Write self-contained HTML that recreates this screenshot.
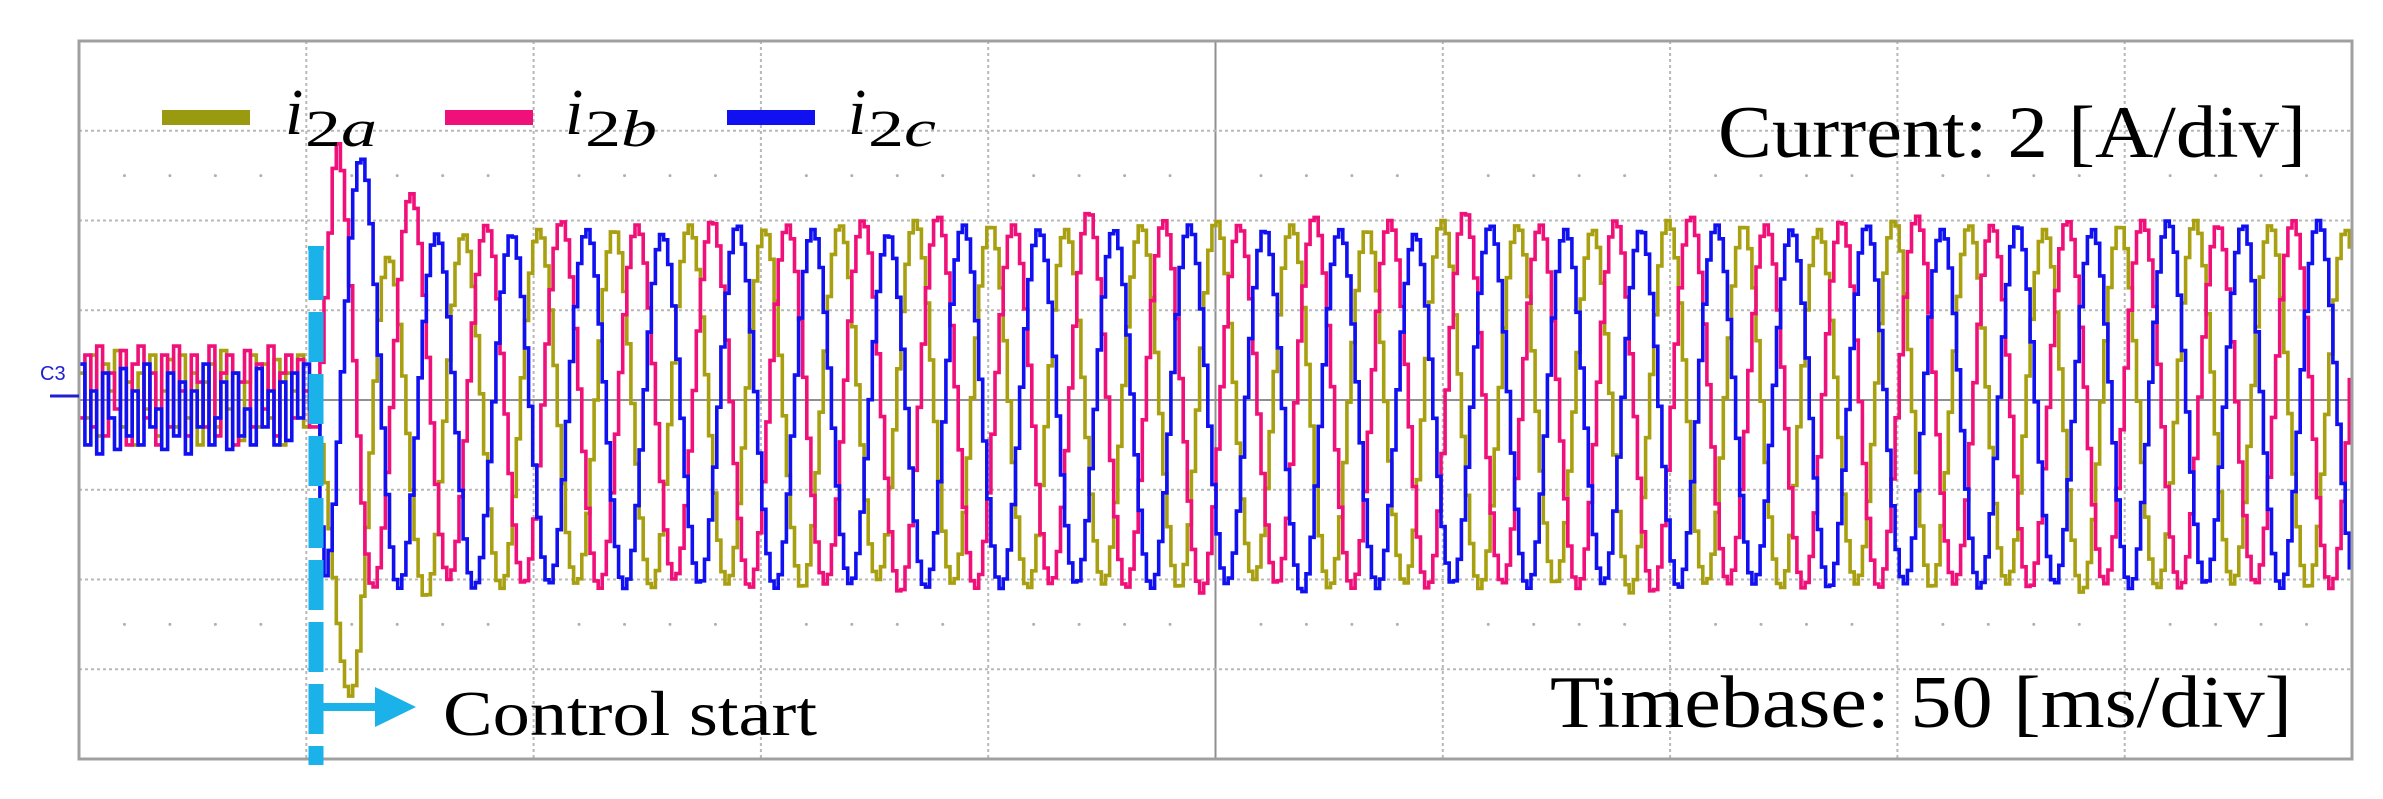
<!DOCTYPE html>
<html><head><meta charset="utf-8"><style>
html,body{margin:0;padding:0;background:#fff}
svg{display:block}
text{font-family:"Liberation Serif",serif}
</style></head>
<body>
<svg id="chart" width="2383" height="799" viewBox="0 0 2383 799" xmlns="http://www.w3.org/2000/svg">
<g id="grid"></g>
<g id="traces"></g>
<rect x="79" y="41" width="2273" height="718" fill="none" stroke="#a0a0a0" stroke-width="3"/>
<g>
<text x="40" y="380" font-size="20" fill="#2020d0" style="font-family:'Liberation Sans',sans-serif">C3</text>
<line x1="50" y1="396" x2="79" y2="396" stroke="#2020d0" stroke-width="3"/>
</g>
<g>
<line x1="316" y1="250" x2="316" y2="765" stroke="#1ab2e8" stroke-width="15" stroke-dasharray="50,12"/>
<line x1="308" y1="248" x2="324" y2="248" stroke="#1ab2e8" stroke-width="4"/>
<line x1="316" y1="707" x2="380" y2="707" stroke="#1ab2e8" stroke-width="8"/>
<polygon points="375,687 416,707 375,727" fill="#1ab2e8"/>
<text x="443" y="735" font-size="64" textLength="374" lengthAdjust="spacingAndGlyphs">Control start</text>
</g>
<g>
<g>
<rect x="162" y="110" width="88" height="15" fill="#9a9a10"/>
<text x="285" y="134" font-size="66" font-style="italic">i</text><text x="305" y="146" font-size="52" textLength="72" lengthAdjust="spacingAndGlyphs">2<tspan font-style="italic">a</tspan></text>
</g>
<g>
<rect x="445" y="110" width="88" height="15" fill="#f0107a"/>
<text x="565" y="134" font-size="66" font-style="italic">i</text><text x="585" y="146" font-size="52" textLength="72" lengthAdjust="spacingAndGlyphs">2<tspan font-style="italic">b</tspan></text>
</g>
<g>
<rect x="727" y="110" width="88" height="15" fill="#1010f0"/>
<text x="848" y="134" font-size="66" font-style="italic">i</text><text x="868" y="146" font-size="52" textLength="68" lengthAdjust="spacingAndGlyphs">2<tspan font-style="italic">c</tspan></text>
</g>
</g>
<text x="1718" y="157" font-size="74" textLength="588" lengthAdjust="spacingAndGlyphs">Current:  2 [A/div]</text>
<text x="1550" y="727" font-size="74" textLength="742" lengthAdjust="spacingAndGlyphs">Timebase:  50 [ms/div]</text>
</svg>
<script>
// time axis: 0..500 ms (10 div x 50 ms), value axis: -4..4 div (2 A/div)
const halfPeriodMs = 8.28;
const firstExtremeMs = { a: 51.1, b: 56.1, c: 53.4 };
const noiseStepMs = 1.3;
// pre-control noise samples (div)
const noiseA = [0.3,-0.2,0.5,-0.4,0.4,0.1,0.55,-0.3,0.2,-0.5,0.3,-0.1,0.5,-0.4,0.1,0.45,-0.3,0.5,-0.2,0.3,-0.5,0.2,0.4,-0.3,0.55,-0.1,0.3,-0.45,0.2,0.5,-0.3,0.4,-0.2,0.45,-0.5,0.3,0.1,0.5,-0.3,0.2];
const noiseB = [-0.2,0.5,-0.3,0.6,-0.4,0.3,-0.1,0.55,-0.5,0.4,0.6,-0.2,0.3,-0.5,0.5,-0.3,0.6,0.1,-0.4,0.5,0.2,-0.3,0.6,-0.4,0.3,0.5,-0.5,0.2,0.55,-0.3,0.4,-0.1,0.6,-0.4,0.3,0.5,-0.2,0.45,0.1,-0.3];
const noiseC = [0.4,-0.5,0.1,-0.6,0.3,-0.2,-0.55,0.35,-0.4,0.1,-0.5,0.4,-0.3,-0.1,-0.55,0.3,-0.4,0.2,-0.6,0.1,-0.3,0.4,-0.5,-0.2,0.2,-0.55,0.3,-0.4,-0.1,-0.5,0.35,-0.3,0.1,-0.5,0.2,-0.45,0.3,-0.2,0.4,-0.1];
// successive peak/trough values after control start (div)
const extremesA = [-0.1,-3.3,1.6,-2.2,1.85,-2.1,1.9,-2.05,1.9,-2.1,1.95,-2.05,1.9,-2.1,1.95,-2.0,2.0,-2.05,1.95,-2.1,1.9,-2.05,1.95,-2.1,2.0,-2.0,1.95,-2.1,1.9,-2.05,2.0,-2.1,1.95,-2.05,1.9,-2.15,2.0,-2.05,1.95,-2.1,1.9,-2.05,2.0,-2.1,1.95,-2.05,1.9,-2.15,1.95,-2.1,2.0,-2.05,1.95,-2.1,1.9,-2.05,1.95];
const extremesB = [2.9,-2.1,2.3,-2.0,1.95,-2.05,2.0,-2.1,1.95,-2.0,2.0,-2.1,1.95,-2.05,2.0,-2.15,2.05,-2.1,1.95,-2.05,2.1,-2.1,2.0,-2.15,1.95,-2.05,2.05,-2.1,2.0,-2.1,2.1,-2.05,1.95,-2.1,2.0,-2.15,2.05,-2.05,1.95,-2.1,2.0,-2.1,2.05,-2.05,1.95,-2.1,2.0,-2.05,2.0,-2.1,1.95,-2.05,2.0,-2.1,2.05,-2.1];
const extremesC = [-2.0,2.7,-2.1,1.85,-2.1,1.85,-2.05,1.9,-2.1,1.85,-2.05,1.95,-2.1,1.9,-2.05,1.85,-2.1,1.95,-2.1,1.9,-2.05,1.9,-2.1,1.95,-2.05,1.9,-2.15,1.9,-2.1,1.85,-2.05,1.95,-2.1,1.9,-2.05,1.9,-2.1,1.95,-2.05,1.9,-2.1,1.95,-2.05,1.9,-2.1,1.95,-2.05,1.9,-2.1,2.0,-2.05,1.95,-2.1,2.0,-2.05,1.95];
const xTicksDiv = [0,1,2,3,4,5,6,7,8,9,10];
const yTicksDiv = [-4,-3,-2,-1,0,1,2,3,4];

const X0=79, X1=2352, Y0=41, Y1=759;
const xScale = t => X0 + (t/500)*(X1-X0);
const yScale = v => (Y0+Y1)/2 - v*(Y1-Y0)/8;
const NS='http://www.w3.org/2000/svg';
const grid=document.getElementById('grid');
function mk(tag,attrs,parent){const e=document.createElementNS(NS,tag);for(const k in attrs)e.setAttribute(k,attrs[k]);parent.appendChild(e);return e;}
xTicksDiv.forEach(d=>{
  const x=xScale(d*50);
  const l=mk('line',{x1:x,y1:Y0,x2:x,y2:Y1,stroke:d===5?'#909090':'#b8b8b8','stroke-width':2,'stroke-dasharray':d===5?'none':'3,3'},grid);
  
  
});
yTicksDiv.forEach(d=>{
  const y=yScale(d);
  const l=mk('line',{x1:X0,y1:y,x2:X1,y2:y,stroke:d===0?'#909090':'#b8b8b8','stroke-width':2,'stroke-dasharray':d===0?'none':'3,3'},grid);
  
  
});
[2.5,-2.5].forEach(v=>{
  for(let k=1;k<50;k++){ if(k%5===0) continue;
    const c=mk('circle',{cx:xScale(k*10),cy:yScale(v),r:1.5,fill:'#b0b0b0'},grid);
    
    
  }
});

function trace(noise, ext, t0, color, name){
  const pts=[];
  const tc=52.1;
  for(let i=0;i<noise.length;i++){
    const t=i*noiseStepMs; if(t>tc) break;
    pts.push([t,noise[i]]); pts.push([Math.min(t+noiseStepMs,tc),noise[i]]);
  }
  const step=0.9;
  for(let t=tc;t<=500;t+=step){
    let k=Math.floor((t-t0)/halfPeriodMs);
    let v;
    if(k<0){
      const f=(t-tc)/(t0-tc);
      v=noise[noise.length-1]*(1-f)+ext[0]*f;
    }
    else if(k>=ext.length-1){ v=ext[ext.length-1]; }
    else{
      const e1=ext[k],e2=ext[k+1];
      const f=(t-(t0+k*halfPeriodMs))/halfPeriodMs;
      v=(e1+e2)/2+(e1-e2)/2*Math.cos(Math.PI*f);
    }
    pts.push([t,v]); pts.push([t+step,v]);
  }
  let d='';
  pts.forEach((p,i)=>{d+=(i?'L':'M')+xScale(Math.min(p[0],500)).toFixed(1)+','+yScale(p[1]).toFixed(1);});
  const path=mk('path',{d:d,fill:'none',stroke:color,'stroke-width':3.6,'stroke-linejoin':'miter'},document.getElementById('traces'));
  
  
}
trace(noiseA,extremesA,firstExtremeMs.a,'#a8a010','trace-i2a');
trace(noiseB,extremesB,firstExtremeMs.b,'#f0107a','trace-i2b');
trace(noiseC,extremesC,firstExtremeMs.c,'#1010f0','trace-i2c');
</script>
</body></html>
